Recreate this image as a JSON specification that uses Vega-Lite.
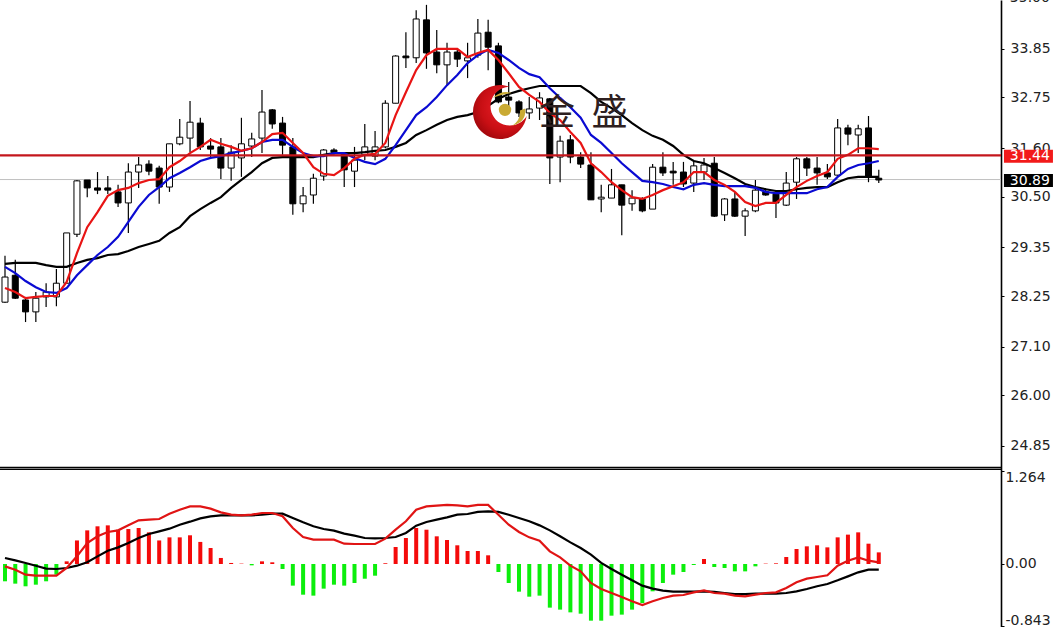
{"$schema":"https://vega.github.io/schema/vega-lite/v6.json","width":1001,"height":627,"autosize":{"type":"none"},"padding":{"left":0,"top":0,"right":52,"bottom":0},"background":"#ffffff","config":{"view":{"stroke":null},"axis":{"grid":false}},
"data":{"values":[
{"i":0,"o":28.11,"h":29.16,"l":28.09,"c":28.68,"ma5":28.43,"ma10":28.91,"ma20":28.98,"osc":-0.235,"macd":0.082,"sig":-0.032},
{"i":1,"o":28.72,"h":29.07,"l":28.18,"c":28.2,"ma5":28.34,"ma10":28.77,"ma20":29.0,"osc":-0.267,"macd":0.05,"sig":-0.077},
{"i":2,"o":28.16,"h":28.23,"l":27.66,"c":27.89,"ma5":28.2,"ma10":28.59,"ma20":29.0,"osc":-0.303,"macd":0.014,"sig":-0.145},
{"i":3,"o":27.89,"h":28.34,"l":27.66,"c":28.2,"ma5":28.23,"ma10":28.45,"ma20":29.0,"osc":-0.281,"macd":-0.023,"sig":-0.159},
{"i":4,"o":28.23,"h":28.54,"l":28.0,"c":28.34,"ma5":28.25,"ma10":28.34,"ma20":28.95,"osc":-0.235,"macd":-0.063,"sig":-0.159},
{"i":5,"o":28.23,"h":28.86,"l":28.02,"c":28.54,"ma5":28.25,"ma10":28.32,"ma20":28.91,"osc":-0.145,"macd":-0.068,"sig":-0.159},
{"i":6,"o":28.54,"h":29.68,"l":28.54,"c":29.68,"ma5":28.57,"ma10":28.43,"ma20":28.91,"osc":0.036,"macd":-0.054,"sig":-0.054},
{"i":7,"o":29.65,"h":30.88,"l":29.59,"c":30.86,"ma5":29.22,"ma10":28.72,"ma20":29.0,"osc":0.32,"macd":-0.023,"sig":0.104},
{"i":8,"o":30.88,"h":30.88,"l":30.49,"c":30.7,"ma5":29.81,"ma10":28.95,"ma20":29.07,"osc":0.457,"macd":0.023,"sig":0.285},
{"i":9,"o":30.7,"h":31.06,"l":30.56,"c":30.65,"ma5":30.15,"ma10":29.18,"ma20":29.11,"osc":0.512,"macd":0.104,"sig":0.376},
{"i":10,"o":30.7,"h":30.97,"l":30.56,"c":30.65,"ma5":30.52,"ma10":29.36,"ma20":29.18,"osc":0.525,"macd":0.181,"sig":0.435},
{"i":11,"o":30.61,"h":30.77,"l":30.27,"c":30.36,"ma5":30.65,"ma10":29.59,"ma20":29.2,"osc":0.466,"macd":0.226,"sig":0.457},
{"i":12,"o":30.36,"h":31.26,"l":29.68,"c":31.06,"ma5":30.7,"ma10":29.93,"ma20":29.27,"osc":0.475,"macd":0.285,"sig":0.525},
{"i":13,"o":31.06,"h":31.4,"l":30.7,"c":31.22,"ma5":30.81,"ma10":30.27,"ma20":29.36,"osc":0.489,"macd":0.353,"sig":0.593},
{"i":14,"o":31.24,"h":31.33,"l":30.99,"c":31.08,"ma5":30.88,"ma10":30.54,"ma20":29.43,"osc":0.43,"macd":0.408,"sig":0.602},
{"i":15,"o":31.15,"h":31.2,"l":30.34,"c":30.72,"ma5":30.9,"ma10":30.72,"ma20":29.5,"osc":0.32,"macd":0.444,"sig":0.611},
{"i":16,"o":30.72,"h":31.7,"l":30.61,"c":31.7,"ma5":31.17,"ma10":30.92,"ma20":29.68,"osc":0.362,"macd":0.48,"sig":0.684},
{"i":17,"o":31.7,"h":32.26,"l":31.67,"c":31.85,"ma5":31.31,"ma10":31.04,"ma20":29.81,"osc":0.362,"macd":0.534,"sig":0.738},
{"i":18,"o":31.83,"h":32.67,"l":31.51,"c":32.19,"ma5":31.49,"ma10":31.17,"ma20":30.06,"osc":0.39,"macd":0.575,"sig":0.783},
{"i":19,"o":32.17,"h":32.29,"l":31.56,"c":31.63,"ma5":31.63,"ma10":31.31,"ma20":30.22,"osc":0.3,"macd":0.62,"sig":0.783},
{"i":20,"o":31.65,"h":31.83,"l":31.38,"c":31.58,"ma5":31.79,"ma10":31.38,"ma20":30.36,"osc":0.217,"macd":0.648,"sig":0.752},
{"i":21,"o":31.63,"h":31.83,"l":30.9,"c":31.15,"ma5":31.7,"ma10":31.42,"ma20":30.49,"osc":0.082,"macd":0.661,"sig":0.702},
{"i":22,"o":31.15,"h":31.67,"l":30.86,"c":31.51,"ma5":31.63,"ma10":31.49,"ma20":30.7,"osc":0.014,"macd":0.661,"sig":0.67},
{"i":23,"o":31.38,"h":32.29,"l":30.95,"c":31.7,"ma5":31.54,"ma10":31.54,"ma20":30.88,"osc":0.005,"macd":0.661,"sig":0.661},
{"i":24,"o":31.65,"h":31.95,"l":31.4,"c":31.81,"ma5":31.6,"ma10":31.6,"ma20":31.06,"osc":-0.018,"macd":0.661,"sig":0.67},
{"i":25,"o":31.83,"h":32.92,"l":31.49,"c":32.42,"ma5":31.74,"ma10":31.74,"ma20":31.26,"osc":0.036,"macd":0.67,"sig":0.693},
{"i":26,"o":32.47,"h":32.49,"l":32.04,"c":32.15,"ma5":31.92,"ma10":31.79,"ma20":31.38,"osc":0.023,"macd":0.684,"sig":0.693},
{"i":27,"o":32.17,"h":32.31,"l":31.45,"c":31.67,"ma5":31.95,"ma10":31.79,"ma20":31.4,"osc":-0.068,"macd":0.684,"sig":0.648},
{"i":28,"o":31.63,"h":31.83,"l":30.09,"c":30.34,"ma5":31.72,"ma10":31.63,"ma20":31.4,"osc":-0.294,"macd":0.625,"sig":0.489},
{"i":29,"o":30.34,"h":30.72,"l":30.15,"c":30.52,"ma5":31.49,"ma10":31.49,"ma20":31.4,"osc":-0.417,"macd":0.566,"sig":0.367},
{"i":30,"o":30.54,"h":31.02,"l":30.34,"c":30.92,"ma5":31.17,"ma10":31.42,"ma20":31.4,"osc":-0.43,"macd":0.512,"sig":0.331},
{"i":31,"o":30.97,"h":31.58,"l":30.86,"c":31.56,"ma5":31.02,"ma10":31.42,"ma20":31.45,"osc":-0.335,"macd":0.476,"sig":0.331},
{"i":32,"o":31.56,"h":31.6,"l":31.45,"c":31.51,"ma5":30.99,"ma10":31.49,"ma20":31.49,"osc":-0.281,"macd":0.453,"sig":0.331},
{"i":33,"o":31.49,"h":31.49,"l":30.72,"c":31.11,"ma5":31.15,"ma10":31.49,"ma20":31.49,"osc":-0.294,"macd":0.412,"sig":0.276},
{"i":34,"o":31.08,"h":31.63,"l":30.72,"c":31.33,"ma5":31.36,"ma10":31.38,"ma20":31.49,"osc":-0.258,"macd":0.385,"sig":0.272},
{"i":35,"o":31.45,"h":32.15,"l":31.33,"c":31.63,"ma5":31.45,"ma10":31.29,"ma20":31.51,"osc":-0.2,"macd":0.353,"sig":0.272},
{"i":36,"o":31.42,"h":31.99,"l":31.33,"c":31.63,"ma5":31.47,"ma10":31.24,"ma20":31.54,"osc":-0.159,"macd":0.349,"sig":0.272},
{"i":37,"o":31.63,"h":32.69,"l":31.6,"c":32.62,"ma5":31.72,"ma10":31.36,"ma20":31.56,"osc":0.01,"macd":0.353,"sig":0.344},
{"i":38,"o":32.62,"h":33.71,"l":32.62,"c":33.69,"ma5":32.35,"ma10":31.67,"ma20":31.63,"osc":0.231,"macd":0.367,"sig":0.466},
{"i":39,"o":33.69,"h":34.23,"l":33.42,"c":33.65,"ma5":32.87,"ma10":32.01,"ma20":31.72,"osc":0.353,"macd":0.421,"sig":0.58},
{"i":40,"o":33.65,"h":34.73,"l":33.53,"c":34.53,"ma5":33.37,"ma10":32.35,"ma20":31.9,"osc":0.489,"macd":0.521,"sig":0.738},
{"i":41,"o":34.51,"h":34.85,"l":33.4,"c":33.76,"ma5":33.71,"ma10":32.53,"ma20":32.01,"osc":0.466,"macd":0.571,"sig":0.783},
{"i":42,"o":33.78,"h":34.28,"l":33.3,"c":33.49,"ma5":33.85,"ma10":32.76,"ma20":32.13,"osc":0.376,"macd":0.602,"sig":0.793},
{"i":43,"o":33.49,"h":33.99,"l":33.03,"c":33.78,"ma5":33.85,"ma10":33.03,"ma20":32.24,"osc":0.326,"macd":0.634,"sig":0.802},
{"i":44,"o":33.78,"h":33.85,"l":33.44,"c":33.62,"ma5":33.85,"ma10":33.26,"ma20":32.31,"osc":0.254,"macd":0.67,"sig":0.797},
{"i":45,"o":33.58,"h":33.99,"l":33.19,"c":33.65,"ma5":33.67,"ma10":33.53,"ma20":32.35,"osc":0.177,"macd":0.679,"sig":0.783},
{"i":46,"o":33.71,"h":34.53,"l":33.65,"c":34.21,"ma5":33.76,"ma10":33.71,"ma20":32.42,"osc":0.177,"macd":0.707,"sig":0.802},
{"i":47,"o":34.23,"h":34.51,"l":33.37,"c":33.89,"ma5":33.83,"ma10":33.83,"ma20":32.56,"osc":0.118,"macd":0.716,"sig":0.802},
{"i":48,"o":33.92,"h":33.99,"l":32.62,"c":32.65,"ma5":33.6,"ma10":33.76,"ma20":32.72,"osc":-0.109,"macd":0.707,"sig":0.67},
{"i":49,"o":32.76,"h":33.1,"l":32.53,"c":32.69,"ma5":33.3,"ma10":33.6,"ma20":32.83,"osc":-0.258,"macd":0.67,"sig":0.534},
{"i":50,"o":32.65,"h":32.69,"l":32.31,"c":32.4,"ma5":32.99,"ma10":33.42,"ma20":32.9,"osc":-0.376,"macd":0.625,"sig":0.435},
{"i":51,"o":32.4,"h":32.76,"l":32.26,"c":32.49,"ma5":32.81,"ma10":33.28,"ma20":32.96,"osc":-0.444,"macd":0.58,"sig":0.362},
{"i":52,"o":32.51,"h":32.87,"l":32.24,"c":32.74,"ma5":32.65,"ma10":33.21,"ma20":33.01,"osc":-0.43,"macd":0.525,"sig":0.317},
{"i":53,"o":32.72,"h":32.74,"l":30.79,"c":31.38,"ma5":32.4,"ma10":32.96,"ma20":33.01,"osc":-0.593,"macd":0.457,"sig":0.172},
{"i":54,"o":31.4,"h":31.88,"l":30.83,"c":31.76,"ma5":32.24,"ma10":32.74,"ma20":33.01,"osc":-0.62,"macd":0.376,"sig":0.09},
{"i":55,"o":31.79,"h":31.9,"l":31.26,"c":31.4,"ma5":31.97,"ma10":32.53,"ma20":33.01,"osc":-0.657,"macd":0.294,"sig":-0.023},
{"i":56,"o":31.4,"h":31.51,"l":31.15,"c":31.24,"ma5":31.72,"ma10":32.29,"ma20":33.01,"osc":-0.675,"macd":0.217,"sig":-0.1},
{"i":57,"o":31.22,"h":31.51,"l":30.43,"c":30.43,"ma5":31.26,"ma10":31.9,"ma20":32.85,"osc":-0.77,"macd":0.127,"sig":-0.258},
{"i":58,"o":30.45,"h":30.77,"l":30.15,"c":30.49,"ma5":31.06,"ma10":31.72,"ma20":32.65,"osc":-0.77,"macd":0.014,"sig":-0.34},
{"i":59,"o":30.47,"h":31.13,"l":30.47,"c":30.77,"ma5":30.83,"ma10":31.49,"ma20":32.51,"osc":-0.702,"macd":-0.068,"sig":-0.394},
{"i":60,"o":30.77,"h":30.77,"l":29.63,"c":30.31,"ma5":30.65,"ma10":31.26,"ma20":32.35,"osc":-0.688,"macd":-0.145,"sig":-0.448},
{"i":61,"o":30.34,"h":30.65,"l":30.18,"c":30.47,"ma5":30.49,"ma10":31.06,"ma20":32.17,"osc":-0.62,"macd":-0.222,"sig":-0.507},
{"i":62,"o":30.45,"h":30.49,"l":30.15,"c":30.18,"ma5":30.45,"ma10":30.86,"ma20":32.01,"osc":-0.53,"macd":-0.294,"sig":-0.557},
{"i":63,"o":30.22,"h":31.24,"l":30.22,"c":31.17,"ma5":30.54,"ma10":30.83,"ma20":31.88,"osc":-0.371,"macd":-0.335,"sig":-0.507},
{"i":64,"o":31.17,"h":31.51,"l":30.97,"c":31.04,"ma5":30.65,"ma10":30.79,"ma20":31.79,"osc":-0.258,"macd":-0.362,"sig":-0.462},
{"i":65,"o":31.08,"h":31.29,"l":30.77,"c":31.04,"ma5":30.74,"ma10":30.72,"ma20":31.65,"osc":-0.145,"macd":-0.376,"sig":-0.43},
{"i":66,"o":31.06,"h":31.29,"l":30.72,"c":30.79,"ma5":30.83,"ma10":30.67,"ma20":31.45,"osc":-0.109,"macd":-0.376,"sig":-0.421},
{"i":67,"o":30.81,"h":31.33,"l":30.61,"c":31.2,"ma5":31.06,"ma10":30.77,"ma20":31.31,"osc":-0.014,"macd":-0.376,"sig":-0.385},
{"i":68,"o":31.06,"h":31.38,"l":30.88,"c":31.22,"ma5":31.06,"ma10":30.81,"ma20":31.26,"osc":0.068,"macd":-0.371,"sig":-0.358},
{"i":69,"o":31.26,"h":31.4,"l":30.04,"c":30.06,"ma5":30.88,"ma10":30.77,"ma20":31.15,"osc":-0.041,"macd":-0.38,"sig":-0.394},
{"i":70,"o":30.09,"h":30.47,"l":29.95,"c":30.45,"ma5":30.77,"ma10":30.74,"ma20":31.04,"osc":-0.054,"macd":-0.394,"sig":-0.403},
{"i":71,"o":30.45,"h":30.61,"l":30.04,"c":30.06,"ma5":30.61,"ma10":30.74,"ma20":30.92,"osc":-0.1,"macd":-0.408,"sig":-0.43},
{"i":72,"o":30.06,"h":30.24,"l":29.61,"c":30.18,"ma5":30.38,"ma10":30.74,"ma20":30.79,"osc":-0.1,"macd":-0.408,"sig":-0.439},
{"i":73,"o":30.18,"h":30.88,"l":30.15,"c":30.65,"ma5":30.29,"ma10":30.7,"ma20":30.72,"osc":-0.032,"macd":-0.403,"sig":-0.417},
{"i":74,"o":30.61,"h":30.7,"l":30.52,"c":30.54,"ma5":30.36,"ma10":30.61,"ma20":30.67,"osc":0.005,"macd":-0.403,"sig":-0.394},
{"i":75,"o":30.56,"h":30.65,"l":30.02,"c":30.36,"ma5":30.36,"ma10":30.58,"ma20":30.63,"osc":0.009,"macd":-0.403,"sig":-0.385},
{"i":76,"o":30.31,"h":31.06,"l":30.29,"c":30.81,"ma5":30.54,"ma10":30.58,"ma20":30.63,"osc":0.095,"macd":-0.394,"sig":-0.326},
{"i":77,"o":30.83,"h":31.4,"l":30.45,"c":31.36,"ma5":30.72,"ma10":30.58,"ma20":30.67,"osc":0.204,"macd":-0.371,"sig":-0.249},
{"i":78,"o":31.36,"h":31.4,"l":30.97,"c":31.15,"ma5":30.86,"ma10":30.58,"ma20":30.7,"osc":0.24,"macd":-0.34,"sig":-0.199},
{"i":79,"o":31.15,"h":31.4,"l":30.77,"c":31.04,"ma5":30.97,"ma10":30.67,"ma20":30.72,"osc":0.254,"macd":-0.303,"sig":-0.177},
{"i":80,"o":31.04,"h":31.24,"l":30.9,"c":30.95,"ma5":31.06,"ma10":30.72,"ma20":30.72,"osc":0.226,"macd":-0.272,"sig":-0.154},
{"i":81,"o":30.99,"h":32.26,"l":30.97,"c":32.06,"ma5":31.36,"ma10":30.95,"ma20":30.83,"osc":0.362,"macd":-0.222,"sig":-0.023},
{"i":82,"o":32.06,"h":32.13,"l":31.67,"c":31.92,"ma5":31.45,"ma10":31.13,"ma20":30.92,"osc":0.399,"macd":-0.168,"sig":0.045},
{"i":83,"o":31.9,"h":32.13,"l":31.49,"c":32.04,"ma5":31.6,"ma10":31.22,"ma20":30.95,"osc":0.43,"macd":-0.113,"sig":0.09},
{"i":84,"o":32.06,"h":32.33,"l":30.83,"c":30.95,"ma5":31.6,"ma10":31.26,"ma20":30.95,"osc":0.276,"macd":-0.077,"sig":0.045},
{"i":85,"o":30.92,"h":31.11,"l":30.81,"c":30.88,"ma5":31.58,"ma10":31.31,"ma20":30.95,"osc":0.158,"macd":-0.077,"sig":0.023}
]},
"encoding":{"x":{"field":"i","type":"quantitative","axis":null,"scale":{"domain":[-0.486,96.89],"nice":false,"zero":false,"padding":0}}},
"resolve":{"scale":{"y":"independent"},"axis":{"y":"independent"}},
"layer":[
{"encoding":{"y":{"type":"quantitative","scale":{"domain":[20.747,34.96],"nice":false,"zero":false}}},
"layer":[
{"data":{"values":[{"price":30.89}]},"mark":{"type":"rule","color":"#c0c0c0","strokeWidth":1},"encoding":{"x":{"value":0},"x2":{"value":1001},"y":{"field":"price","type":"quantitative","title":null,"axis":{"orient":"right","title":null,"values":[33.85,32.75,31.6,30.5,29.35,28.25,27.1,26,24.85],"format":".2f","labelFont":"DejaVu Sans","labelFontSize":14,"labelColor":"#222222","labelPadding":6,"tickColor":"#000000","tickSize":3,"tickWidth":1,"domainColor":"#000000","domainWidth":1.6,"labelOverlap":false,"labelBound":false,"labelFlush":false}}}},
{"mark":{"type":"rule","color":"#000000","strokeWidth":1.2},"encoding":{"y":{"field":"h","type":"quantitative"},"y2":{"field":"l"}}},
{"mark":{"type":"bar","size":6,"stroke":"#000000","strokeWidth":1},"encoding":{"y":{"field":"o","type":"quantitative"},"y2":{"field":"c"},"fill":{"condition":{"test":"datum.c>=datum.o","value":"#ffffff"},"value":"#000000"}}},
{"mark":{"type":"line","color":"#000000","strokeWidth":2.2},"encoding":{"y":{"field":"ma20","type":"quantitative"}}},
{"mark":{"type":"line","color":"#0a0ad2","strokeWidth":2.2},"encoding":{"y":{"field":"ma10","type":"quantitative"}}},
{"mark":{"type":"line","color":"#e81414","strokeWidth":2.2},"encoding":{"y":{"field":"ma5","type":"quantitative"}}},
{"data":{"values":[{"price":31.44}]},"mark":{"type":"rule","color":"#c4161c","strokeWidth":2.2},"encoding":{"x":{"value":0},"x2":{"value":1001},"y":{"field":"price","type":"quantitative"}}},
{"data":{"values":[{"i":48.15,"price":32.42}]},"mark":{"type":"point","filled":true,"opacity":1,"size":2916,"shape":"M0.343,-0.939 A1,1 0 1 0 0.989,0.148 A0.72,0.72 0 1 1 0.343,-0.939 Z","fill":{"gradient":"radial","x1":0.6,"y1":0.4,"x2":0.6,"y2":0.4,"r1":0,"r2":0.75,"stops":[{"offset":0,"color":"#f0202a"},{"offset":0.6,"color":"#c80f14"},{"offset":1,"color":"#8c0408"}]}},"encoding":{"y":{"field":"price","type":"quantitative"}}},
{"data":{"values":[{"i":48.64,"price":32.47}]},"mark":{"type":"point","filled":true,"opacity":1,"size":2916,"fill":"#c9aa34","shape":"M-0.45,-0.45 Q-0.1,-0.75 0.25,-0.62 Q-0.1,-0.58 -0.45,-0.45 Z M0.75,-0.05 Q0.8,0.45 0.28,0.58 Q0.6,0.35 0.55,0.02 Z"},"encoding":{"y":{"field":"price","type":"quantitative"}}},
{"data":{"values":[{"i":48.64,"price":32.47}]},"mark":{"type":"point","filled":true,"opacity":1,"size":154,"fill":"#c9aa34","shape":"circle"},"encoding":{"y":{"field":"price","type":"quantitative"}}},
{"data":{"values":[{"word":"金","i":53.7,"price":32.38},{"word":"盛","i":58.8,"price":32.38}]},"mark":{"type":"text","font":"Noto Sans CJK SC","fontSize":36,"color":"#2e2020","align":"center","baseline":"middle"},"encoding":{"y":{"field":"price","type":"quantitative"},"text":{"field":"word"}}},
{"data":{"values":[{"tag":"31.44","price":31.44,"i":99.56},{"tag":"30.89","price":30.89,"i":99.56}]},"mark":{"type":"rect","width":49,"height":13,"yOffset":1},"encoding":{"y":{"field":"price","type":"quantitative"},"color":{"field":"tag","type":"nominal","legend":null,"scale":{"domain":["31.44","30.89"],"range":["#f21a1a","#000000"]}}}},
{"data":{"values":[{"tag":"31.44","price":31.44,"i":99.7},{"tag":"30.89","price":30.89,"i":99.7}]},"mark":{"type":"text","font":"DejaVu Sans","fontSize":14,"color":"#ffffff","align":"center","baseline":"middle","yOffset":1},"encoding":{"y":{"field":"price","type":"quantitative"},"text":{"field":"tag"}}},
{"data":{"values":[{"tag":"35.00","price":35.0,"i":99.7}]},"mark":{"type":"text","font":"DejaVu Sans","fontSize":14,"color":"#222222","align":"center","baseline":"middle"},"encoding":{"y":{"field":"price","type":"quantitative"},"text":{"field":"tag"}}}
]},
{"encoding":{"y":{"type":"quantitative","scale":{"domain":[-0.856,7.663],"nice":false,"zero":false}}},
"layer":[
{"data":{"values":[{"level":1.314},{"level":1.287}]},"mark":{"type":"rule","color":"#000000","strokeWidth":1.3},"encoding":{"x":{"value":0},"x2":{"value":1001},"y":{"field":"level","type":"quantitative","title":null,"axis":{"orient":"right","title":null,"values":[1.264,0,-0.843],"labelExpr":"datum.value==0?'0.00':(datum.value<0?'-0.843':'1.264')","domain":false,"labelFont":"DejaVu Sans","labelFontSize":14,"labelColor":"#222222","labelPadding":1,"tickColor":"#000000","tickSize":3,"tickWidth":1,"labelOverlap":false,"labelBound":false,"labelFlush":false,"labelOffset":{"condition":[{"test":"datum.value>1","value":7},{"test":"datum.value<0","value":-6}],"value":0}}}}},
{"mark":{"type":"rule","strokeWidth":4},"encoding":{"y":{"field":"osc","type":"quantitative"},"y2":{"datum":0},"color":{"condition":{"test":"datum.osc>=0","value":"#f40a0a"},"value":"#0cee0c"}}},
{"mark":{"type":"line","color":"#000000","strokeWidth":2.2},"encoding":{"y":{"field":"macd","type":"quantitative"}}},
{"mark":{"type":"line","color":"#e01414","strokeWidth":2.2},"encoding":{"y":{"field":"sig","type":"quantitative"}}}
]}
]}
